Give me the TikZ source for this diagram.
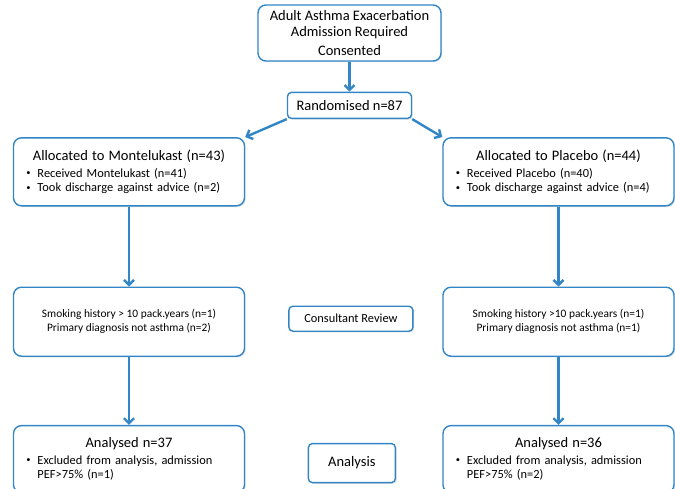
\documentclass[tikz,border=0pt]{standalone}
\usepackage{fontspec}
\setmainfont{Carlito}
\usepackage{xcolor}
\usetikzlibrary{positioning, shadows}
\usetikzlibrary{arrows.meta}
\definecolor{flowblue}{HTML}{3286C6}
\tikzstyle{stage} = [rectangle, rounded corners=8pt, draw=flowblue, line width=1.4pt, fill=white, drop shadow={shadow xshift=1.2pt, shadow yshift=-1.2pt, opacity=0.25}]
\tikzstyle{group} = [stage, minimum width=231pt, minimum height=68pt, text width=205pt, inner xsep=13pt, align=left, font=\fontsize{12.4}{14.5}\selectfont]
\tikzstyle{excl} = [stage, minimum width=231pt, minimum height=69pt, align=center, font=\fontsize{11.4}{14}\selectfont]
\tikzstyle{tag} = [stage, rounded corners=4pt, minimum width=124pt, minimum height=25pt, align=center, font=\fontsize{14.5}{17}\selectfont]
\tikzstyle{arrow} = [line width=2.4pt, draw=flowblue, -{Straight Barb[length=5pt,width=10pt]}]
\newcommand{\bul}{\makebox[11pt][l]{\raisebox{1.3pt}{\fontsize{8.5}{8.5}\selectfont\textbullet}}}
\newcommand{\ttl}[1]{\makebox[\hsize][c]{\fontsize{14.5}{17}\selectfont #1}\\[2pt]}
\begin{document}
\begin{tikzpicture}[node distance=2cm]
    \useasboundingbox (-349.5pt,33pt) rectangle (325.5pt,-455pt);
    \node (consent) [stage, minimum width=183pt, minimum height=56pt, align=center, font=\fontsize{14.5}{16}\selectfont]{Adult Asthma Exacerbation\\Admission Required\\[3pt]Consented};
    \node (rand) [tag, below=30pt of consent, minimum height=26pt]{Randomised n=87};
    \node (montel) [group, below=18pt of rand, xshift=-220.5pt]{\ttl{Allocated to Montelukast (n=43)}\bul Received Montelukast (n=41)\\\bul Took discharge against advice (n=2)};
    \node (placebo) [group, below=18pt of rand, xshift=209pt]{\ttl{Allocated to Placebo (n=44)}\bul Received Placebo (n=40)\\\bul Took discharge against advice (n=4)};
    \node (smokeL) [excl, below=80pt of montel]{Smoking history > 10 pack.years (n=1)\\Primary diagnosis not asthma (n=2)};
    \node (smokeR) [excl, below=80pt of placebo]{Smoking history >10 pack.years (n=1)\\Primary diagnosis not asthma (n=1)};
    \node (review) [tag, right=43pt of smokeL, yshift=3pt, font=\fontsize{12.4}{14.5}\selectfont]{Consultant Review};
    \node (analysedL) [group, below=68pt of smokeL, minimum height=67pt]{\ttl{Analysed n=37}\bul Excluded from analysis, admission\\\hspace*{11pt}PEF>75\% (n=1)};
    \node (analysedR) [group, below=68pt of smokeR, minimum height=67pt]{\ttl{Analysed n=36}\bul Excluded from analysis, admission\\\hspace*{11pt}PEF>75\% (n=2)};
    \node (analysis) [tag, right=62.5pt of analysedL, yshift=-4pt, minimum width=87pt, minimum height=39pt]{Analysis};
    \draw[arrow] (consent)--(rand);
    \draw[arrow] (rand.south west)--(montel.north east);
    \draw[arrow] (rand.south east)--(placebo.north west);
    \draw[arrow] (montel)--(smokeL);
    \draw[arrow] (placebo)--(smokeR);
    \draw[arrow] (smokeL)--(analysedL);
    \draw[arrow] (smokeR)--(analysedR);
\end{tikzpicture}
\end{document}
